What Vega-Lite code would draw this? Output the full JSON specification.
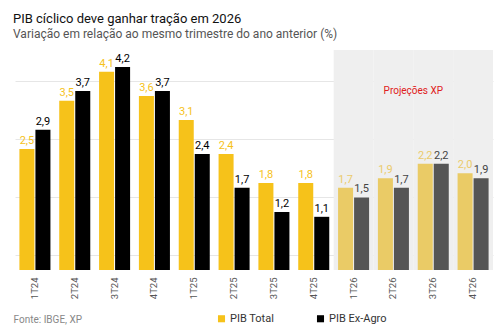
{
  "$schema": "https://vega.github.io/schema/vega-lite/v6.json",
  "width": 478,
  "height": 220,
  "autosize": {"type": "none"},
  "padding": {"left": 15, "top": 50, "right": 9, "bottom": 63},
  "background": "white",
  "config": {
    "font": "Roboto",
    "view": {"stroke": null},
    "locale": {"number": {"decimal": ",", "thousands": ".", "grouping": [3], "currency": ["R$", ""]}}
  },
  "title": {
    "text": "PIB cíclico deve ganhar tração em 2026",
    "subtitle": "Variação em relação ao mesmo trimestre do ano anterior (%)",
    "anchor": "start",
    "frame": "group",
    "dx": -2,
    "offset": 10,
    "fontSize": 13,
    "fontWeight": "normal",
    "color": "#111111",
    "subtitleFontSize": 12,
    "subtitleColor": "#555555",
    "subtitlePadding": 3
  },
  "datasets": {
    "d": [
      {"q": "1T24", "serie": "PIB Total", "v": 2.5, "proj": false},
      {"q": "1T24", "serie": "PIB Ex-Agro", "v": 2.9, "proj": false},
      {"q": "2T24", "serie": "PIB Total", "v": 3.5, "proj": false},
      {"q": "2T24", "serie": "PIB Ex-Agro", "v": 3.7, "proj": false},
      {"q": "3T24", "serie": "PIB Total", "v": 4.1, "proj": false},
      {"q": "3T24", "serie": "PIB Ex-Agro", "v": 4.2, "proj": false},
      {"q": "4T24", "serie": "PIB Total", "v": 3.6, "proj": false},
      {"q": "4T24", "serie": "PIB Ex-Agro", "v": 3.7, "proj": false},
      {"q": "1T25", "serie": "PIB Total", "v": 3.1, "proj": false},
      {"q": "1T25", "serie": "PIB Ex-Agro", "v": 2.4, "proj": false},
      {"q": "2T25", "serie": "PIB Total", "v": 2.4, "proj": false},
      {"q": "2T25", "serie": "PIB Ex-Agro", "v": 1.7, "proj": false},
      {"q": "3T25", "serie": "PIB Total", "v": 1.8, "proj": false},
      {"q": "3T25", "serie": "PIB Ex-Agro", "v": 1.2, "proj": false},
      {"q": "4T25", "serie": "PIB Total", "v": 1.8, "proj": false},
      {"q": "4T25", "serie": "PIB Ex-Agro", "v": 1.1, "proj": false},
      {"q": "1T26", "serie": "PIB Total", "v": 1.7, "proj": true},
      {"q": "1T26", "serie": "PIB Ex-Agro", "v": 1.5, "proj": true},
      {"q": "2T26", "serie": "PIB Total", "v": 1.9, "proj": true},
      {"q": "2T26", "serie": "PIB Ex-Agro", "v": 1.7, "proj": true},
      {"q": "3T26", "serie": "PIB Total", "v": 2.2, "proj": true},
      {"q": "3T26", "serie": "PIB Ex-Agro", "v": 2.2, "proj": true},
      {"q": "4T26", "serie": "PIB Total", "v": 2.0, "proj": true},
      {"q": "4T26", "serie": "PIB Ex-Agro", "v": 1.9, "proj": true}
    ]
  },
  "data": {"name": "d"},
  "encoding": {
    "x": {
      "field": "q",
      "type": "nominal",
      "sort": null,
      "scale": {
        "domain": ["1T24", "2T24", "3T24", "4T24", "1T25", "2T25", "3T25", "4T25", "1T26", "2T26", "3T26", "4T26"],
        "paddingInner": 0,
        "paddingOuter": 0
      },
      "axis": {
        "labelAngle": 270,
        "labelFontSize": 9.5,
        "labelColor": "#555555",
        "labelPadding": 7,
        "ticks": false,
        "domain": false,
        "grid": false,
        "title": "Fonte: IBGE, XP",
        "titleAnchor": "start",
        "titleAlign": "left",
        "titleBaseline": "middle",
        "titleX": -2,
        "titleY": 49,
        "titleFontSize": 10,
        "titleFontWeight": "normal",
        "titleColor": "#888888"
      }
    }
  },
  "layer": [
    {
      "transform": [{"filter": "datum.proj && datum.serie == 'PIB Total'"}],
      "mark": {"type": "rect", "color": "#efefef"},
      "encoding": {
        "y": {"datum": 4.55, "type": "quantitative", "scale": {"domain": [0, 4.55], "nice": false}, "axis": {"grid": true, "values": [0.3, 0.6, 0.9, 1.2, 1.5, 1.8, 2.1, 2.4, 2.7, 3.0, 3.3, 3.6, 3.9, 4.2, 4.5], "labels": false, "ticks": false, "domain": false, "title": null, "gridColor": "#e6e6e6"}},
        "y2": {"datum": 0}
      }
    },
    {
      "mark": {"type": "bar"},
      "encoding": {
        "xOffset": {"field": "serie", "sort": ["PIB Total", "PIB Ex-Agro"], "scale": {"paddingInner": 0.0625, "paddingOuter": 0.275}},
        "y": {"field": "v", "type": "quantitative", "scale": {"domain": [0, 4.55], "nice": false}, "axis": {"grid": true, "values": [0.3, 0.6, 0.9, 1.2, 1.5, 1.8, 2.1, 2.4, 2.7, 3.0, 3.3, 3.6, 3.9, 4.2, 4.5], "labels": false, "ticks": false, "domain": false, "title": null, "gridColor": "#e6e6e6"}},
        "color": {
          "field": "serie",
          "type": "nominal",
          "scale": {"domain": ["PIB Total", "PIB Ex-Agro"], "range": ["#F6C21A", "#000000"]},
          "condition": [
            {"test": "datum.proj && datum.serie == 'PIB Total'", "value": "#EACB66"},
            {"test": "datum.proj", "value": "#555555"}
          ],
          "legend": {
            "orient": "none",
            "legendX": 201,
            "legendY": 263,
            "direction": "horizontal",
            "title": null,
            "symbolType": "square",
            "symbolSize": 50,
            "symbolStrokeWidth": 0,
            "labelFontSize": 11,
            "labelColor": "#333333",
            "columnPadding": 40,
            "labelOffset": 3
          }
        }
      }
    },
    {
      "mark": {"type": "text", "baseline": "bottom", "dy": -3, "fontSize": 11},
      "encoding": {
        "xOffset": {"field": "serie", "sort": ["PIB Total", "PIB Ex-Agro"], "scale": {"paddingInner": 0.0625, "paddingOuter": 0.275}},
        "y": {"field": "v", "type": "quantitative"},
        "text": {"field": "v", "type": "quantitative", "format": ".1f"},
        "fill": {
          "condition": [
            {"test": "datum.proj && datum.serie == 'PIB Total'", "value": "#EBCB6B"},
            {"test": "datum.proj", "value": "#444444"},
            {"test": "datum.serie == 'PIB Total'", "value": "#F6C21A"}
          ],
          "value": "#000000"
        }
      }
    },
    {
      "data": {"values": [{}]},
      "mark": {"type": "text", "fontSize": 10, "color": "#E02020", "align": "center", "baseline": "middle"},
      "encoding": {
        "x": {"datum": "3T26", "bandPosition": 0},
        "y": {"datum": 3.7, "type": "quantitative"},
        "text": {"value": "Projeções XP"}
      }
    }
  ]
}
